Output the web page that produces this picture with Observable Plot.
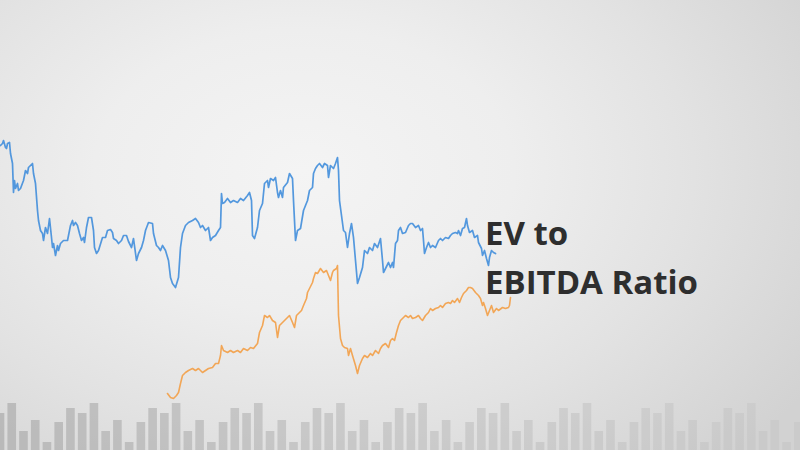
<!DOCTYPE html>
<html>
<head>
<meta charset="utf-8">
<script src="https://cdn.jsdelivr.net/npm/d3@7"></script>
<script src="https://cdn.jsdelivr.net/npm/@observablehq/plot@0.6"></script>
<style>
  html, body { margin: 0; padding: 0; }
  body {
    width: 800px; height: 450px; overflow: hidden; position: relative;
    background: radial-gradient(ellipse 75% 90% at 38% 38%, #f4f4f4 0%, #eeeeee 35%, #e2e2e2 65%, #d2d2d2 100%);
  }
  #chart { position: absolute; left: 0; top: 0; }
  #label {
    position: absolute; left: 485px; top: 208px;
    font-family: "Open Sans", sans-serif; font-weight: 700; font-size: 33px;
    line-height: 49px; color: #2e2e2e; letter-spacing: 0px;
  }
</style>
</head>
<body>
<div id="chart"></div>
<div id="label">EV to<br>EBITDA Ratio</div>
<script>
// Series: [day, value]
const blue = [[0,305],[2,307],[3,310],[5,303],[6,302],[7,307],[9,308],[10,297],[12,287],[13,258],[14,270],[15,262],[17,267],[18,260],[20,262],[23,270],[25,280],[27,277],[28,283],[32,287],[33,277],[35,267],[37,240],[38,230],[40,220],[42,217],[43,210],[45,223],[47,217],[49,232],[51,213],[52,203],[53,207],[55,195],[57,205],[58,200],[60,207],[63,210],[67,210],[70,225],[72,230],[73,225],[75,228],[77,225],[79,217],[81,210],[83,213],[84,208],[86,223],[88,233],[91,233],[93,220],[94,203],[96,197],[98,200],[102,213],[105,213],[107,220],[110,221],[112,218],[113,212],[116,210],[118,207],[121,210],[123,215],[126,215],[128,209],[131,203],[133,212],[136,190],[138,197],[141,203],[143,210],[145,220],[148,228],[152,227],[153,217],[156,205],[158,203],[160,200],[162,205],[165,200],[168,190],[170,173],[172,167],[175,163],[178,173],[180,203],[182,217],[185,225],[188,228],[192,230],[195,232],[198,228],[200,223],[202,225],[205,220],[208,223],[210,210],[212,213],[215,215],[218,220],[220,223],[221,257],[222,247],[224,248],[227,252],[230,248],[233,250],[237,248],[240,252],[243,250],[247,255],[249,258],[251,250],[252,215],[254,212],[257,223],[259,240],[262,247],[264,267],[267,270],[268,263],[270,272],[273,270],[275,273],[277,258],[278,253],[280,260],[282,253],[283,263],[287,268],[289,277],[292,272],[293,250],[295,210],[297,220],[300,222],[303,240],[307,250],[309,260],[312,263],[313,277],[315,282],[317,285],[319,287],[322,283],[324,287],[327,285],[328,273],[330,285],[333,282],[335,287],[337,293],[338,280],[339,250],[341,235],[343,220],[345,218],[347,203],[349,217],[351,227],[353,213],[355,190],[357,167],[359,173],[362,183],[364,200],[367,197],[369,203],[372,200],[374,207],[377,203],[380,212],[382,190],[383,178],[385,182],[388,188],[390,183],[392,188],[393,183],[395,207],[397,210],[398,220],[400,223],[402,217],[405,218],[408,225],[410,227],[412,227],[415,223],[418,225],[420,220],[422,222],[423,210],[424,197],[426,203],[428,208],[430,203],[432,205],[435,203],[438,210],[440,212],[442,210],[445,213],[448,212],[450,215],[452,217],[455,218],[457,217],[458,220],[460,215],[462,222],[464,223],[466,232],[467,225],[469,218],[472,220],[474,213],[477,215],[478,208],[481,202],[482,195],[484,200],[486,192],[488,185],[489,193],[491,200],[493,198],[495,197]];

const orange = [[167,57],[170,53],[173,52],[176,55],[178,58],[180,67],[182,75],[185,78],[188,80],[192,82],[195,80],[198,82],[202,78],[205,80],[208,82],[212,83],[215,87],[218,87],[220,95],[221,105],[223,100],[227,98],[230,100],[233,98],[237,100],[240,98],[243,102],[247,100],[250,103],[253,102],[257,107],[259,118],[262,125],[264,135],[267,133],[269,135],[272,130],[275,128],[277,113],[279,125],[282,128],[284,130],[287,133],[289,135],[292,128],[294,123],[296,135],[298,137],[301,140],[303,145],[306,152],[307,158],[309,162],[312,168],[313,172],[315,178],[317,177],[320,182],[323,178],[326,180],[328,175],[330,170],[332,178],[333,180],[336,182],[337,185],[338,135],[340,112],[342,105],[344,103],[347,102],[348,95],[350,102],[352,95],[355,85],[357,77],[359,85],[362,92],[364,95],[367,93],[370,97],[372,95],[375,100],[378,97],[380,102],[382,105],[385,107],[388,103],[390,110],[392,112],[394,110],[396,118],[398,125],[400,130],[402,132],[405,135],[408,133],[410,135],[412,132],[415,133],[418,135],[420,132],[422,130],[425,135],[428,138],[430,142],[432,140],[435,142],[438,143],[440,145],[442,143],[445,147],[448,148],[450,147],[452,150],[454,148],[457,152],[459,148],[461,153],[463,157],[466,160],[468,163],[470,163],[472,162],[475,158],[478,155],[480,152],[482,145],[483,148],[485,142],[487,135],[489,140],[491,145],[493,138],[496,142],[498,140],[502,143],[505,142],[508,143],[509,145],[510,153]];

// Decorative volume-style bars along the bottom (heights, left to right)
const barHeights = [37,47,19,30,8,28,42, 37,47,19,30,8,28,42, 37,47,19,30,8,28,42, 37,47,19,30,8,28,42, 37,47,19,30,8,28,42, 37,47,19,30,8,28,42, 37,47,19,30,8,28,42, 37,47,19,30,8,28,42, 37,47,19,30,8,28,42, 37,47,19,30,8,28];

const step = 11.74, bw = 8.6;
const n = barHeights.length;

const chart = Plot.plot({
  width: 800,
  height: 450,
  margin: 0,
  x: { domain: [0, 800], axis: null },
  y: { domain: [0, 450], axis: null },
  style: { background: "transparent", overflow: "visible" },
  marks: [
    Plot.rectY(barHeights, {
      x1: (d, i) => i * step - bw / 2,
      x2: (d, i) => i * step + bw / 2,
      y1: 0,
      y2: d => d,
      fill: "#a9a9a9",
      fillOpacity: (d, i) => 0.66 - 0.5 * i / (n - 1)
    }),
    Plot.line(blue, { x: d => d[0], y: d => d[1], stroke: "#4a92dc", strokeWidth: 1.7, strokeOpacity: 0.95, curve: "linear" }),
    Plot.line(orange, { x: d => d[0], y: d => d[1], stroke: "#f2a24e", strokeWidth: 1.6, strokeOpacity: 0.95, curve: "linear" })
  ]
});
document.getElementById("chart").appendChild(chart);
</script>
</body>
</html>
